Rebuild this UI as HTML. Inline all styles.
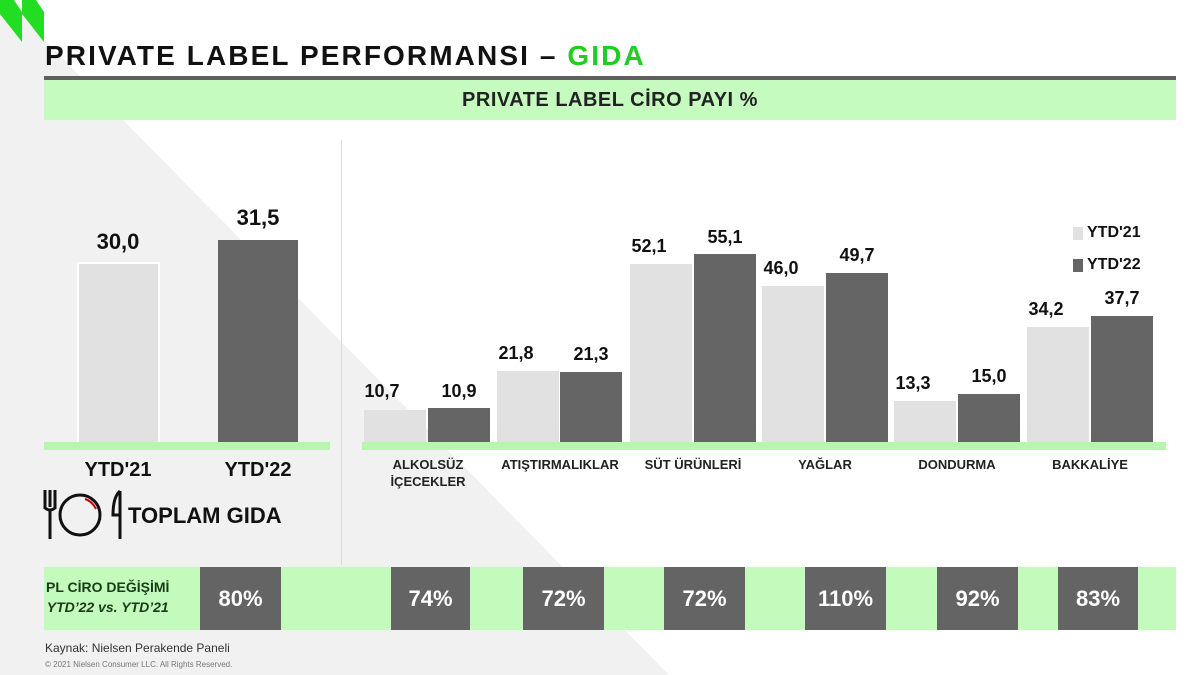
<!DOCTYPE html>
<html><head><meta charset="utf-8"><style>
*{margin:0;padding:0;box-sizing:border-box}
body{width:1200px;height:675px;position:relative;overflow:hidden;background:#fff;font-family:"Liberation Sans",sans-serif;font-weight:bold;color:#111}
.a{position:absolute}
.l{background:#e1e1e1}
.d{background:#656565}
.v{position:absolute;font-size:18px;text-align:center;width:80px}
.c{position:absolute;font-size:13px;text-align:center;width:140px;line-height:17px;color:#222}
.b{position:absolute;top:567px;height:63px;background:#646464;color:#fff;font-size:22px;text-align:center;line-height:63px}
</style></head><body>
<svg class="a" style="left:0;top:0" width="1200" height="675">
<polygon points="0,0,5,0,669,675,0,675" fill="#f1f1f1"/>
<polygon points="0,0,14,0,22,12,22,42,0,14" fill="#22dd22"/>
<polygon points="22,0,36,0,44,12,44,42,22,14" fill="#22dd22"/>
</svg>
<div class="a" style="left:45px;top:40px;font-size:28px;letter-spacing:2.1px;white-space:nowrap">PRIVATE LABEL PERFORMANSI – <span style="color:#22cc22">GIDA</span></div>
<div class="a" style="left:44px;top:76px;width:1132px;height:4px;background:#5f5f5f"></div>
<div class="a" style="left:44px;top:80px;width:1132px;height:40px;background:#c6fbc0;text-align:center;line-height:40px;font-size:20px;color:#222;letter-spacing:0.5px">PRIVATE LABEL CİRO PAYI %</div>
<div class="a" style="left:341px;top:140px;width:1px;height:425px;background:#dcdcdc"></div>

<div class="a l" style="left:77px;top:262px;width:83px;height:180px;border:2px solid #fff;border-bottom:0"></div>
<div class="a d" style="left:218px;top:240px;width:80px;height:202px"></div>
<div class="a" style="left:44px;top:442px;width:286px;height:8px;background:#b6f7ae"></div>
<div class="v" style="left:78px;top:229px;font-size:22px">30,0</div>
<div class="v" style="left:218px;top:205px;font-size:22px">31,5</div>
<div class="v" style="left:68px;top:459px;width:100px;font-size:20px">YTD'21</div>
<div class="v" style="left:208px;top:459px;width:100px;font-size:20px">YTD'22</div>
<svg class="a" style="left:40px;top:487px" width="85" height="55">
<g fill="none" stroke="#111" stroke-width="3"><path d="M5,3V20M10,3V20M15,3V20M4,20Q10,26 16,20M10,22V52"/><circle cx="40" cy="28" r="20"/><path d="M80,4V52M80,4Q73,10 73,28L80,28"/></g>
<path d="M45,12Q52,14 56,22" stroke="#c00" stroke-width="2" fill="none"/>
</svg>
<div class="a" style="left:128px;top:503px;font-size:22px">TOPLAM GIDA</div>

<div class="a" style="left:362px;top:442px;width:804px;height:8px;background:#b6f7ae"></div>
<div class="a l" style="left:364px;top:410px;width:62px;height:32px"></div>
<div class="a d" style="left:428px;top:408px;width:62px;height:34px"></div>
<div class="a l" style="left:497px;top:371px;width:62px;height:71px"></div>
<div class="a d" style="left:560px;top:372px;width:62px;height:70px"></div>
<div class="a l" style="left:630px;top:264px;width:62px;height:178px"></div>
<div class="a d" style="left:694px;top:254px;width:62px;height:188px"></div>
<div class="a l" style="left:762px;top:286px;width:62px;height:156px"></div>
<div class="a d" style="left:826px;top:273px;width:62px;height:169px"></div>
<div class="a l" style="left:894px;top:401px;width:62px;height:41px"></div>
<div class="a d" style="left:958px;top:394px;width:62px;height:48px"></div>
<div class="a l" style="left:1027px;top:327px;width:62px;height:115px"></div>
<div class="a d" style="left:1091px;top:316px;width:62px;height:126px"></div>

<div class="v" style="left:342px;top:381px">10,7</div>
<div class="v" style="left:419px;top:381px">10,9</div>
<div class="v" style="left:476px;top:343px">21,8</div>
<div class="v" style="left:551px;top:344px">21,3</div>
<div class="v" style="left:609px;top:236px">52,1</div>
<div class="v" style="left:685px;top:227px">55,1</div>
<div class="v" style="left:741px;top:258px">46,0</div>
<div class="v" style="left:817px;top:245px">49,7</div>
<div class="v" style="left:873px;top:373px">13,3</div>
<div class="v" style="left:949px;top:366px">15,0</div>
<div class="v" style="left:1006px;top:299px">34,2</div>
<div class="v" style="left:1082px;top:288px">37,7</div>

<div class="c" style="left:358px;top:456px">ALKOLSÜZ<br>İÇECEKLER</div>
<div class="c" style="left:490px;top:456px">ATIŞTIRMALIKLAR</div>
<div class="c" style="left:623px;top:456px">SÜT ÜRÜNLERİ</div>
<div class="c" style="left:755px;top:456px">YAĞLAR</div>
<div class="c" style="left:887px;top:456px">DONDURMA</div>
<div class="c" style="left:1020px;top:456px">BAKKALİYE</div>

<div class="a l" style="left:1073px;top:227px;width:10px;height:13px"></div>
<div class="a" style="left:1087px;top:224px;font-size:16px">YTD'21</div>
<div class="a d" style="left:1073px;top:259px;width:10px;height:13px"></div>
<div class="a" style="left:1087px;top:256px;font-size:16px">YTD'22</div>

<div class="a" style="left:44px;top:567px;width:1132px;height:63px;background:#c2fbbc"></div>
<div class="a" style="left:46px;top:577px;font-size:14px;color:#1a3a1a;line-height:20px;text-align:center">PL CİRO DEĞİŞİMİ<br><i>YTD’22 vs. YTD’21</i></div>
<div class="b" style="left:200px;width:81px">80%</div>
<div class="b" style="left:391px;width:79px">74%</div>
<div class="b" style="left:523px;width:81px">72%</div>
<div class="b" style="left:664px;width:81px">72%</div>
<div class="b" style="left:805px;width:81px">110%</div>
<div class="b" style="left:937px;width:81px">92%</div>
<div class="b" style="left:1058px;width:80px">83%</div>

<div class="a" style="left:45px;top:641px;font-size:12px;font-weight:normal;color:#333">Kaynak: Nielsen Perakende Paneli</div>
<div class="a" style="left:45px;top:660px;font-size:8px;font-weight:normal;color:#777">© 2021 Nielsen Consumer LLC. All Rights Reserved.</div>
</body></html>
